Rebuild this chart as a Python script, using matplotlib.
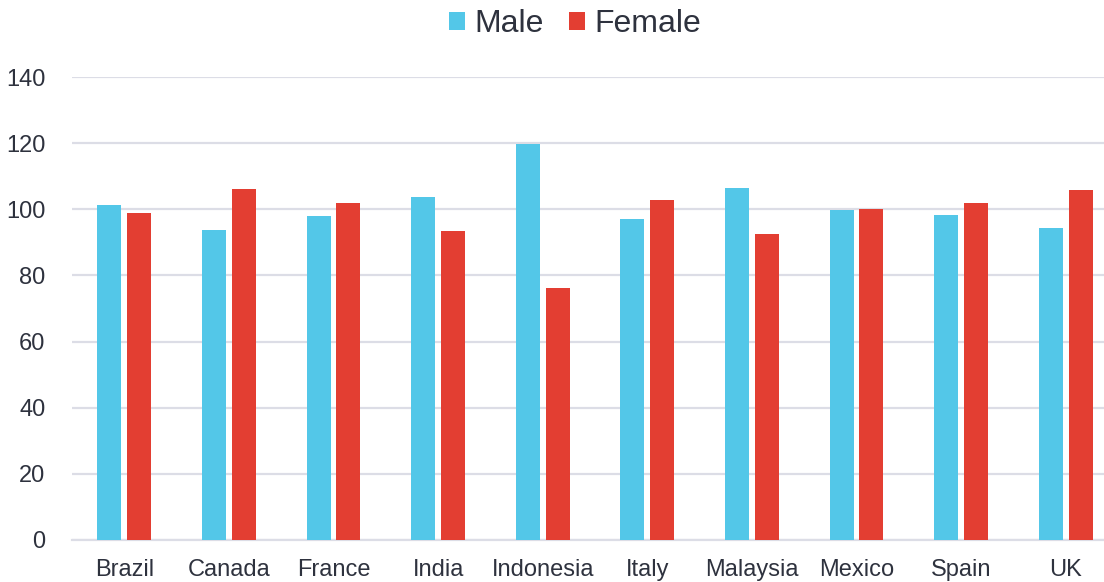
import matplotlib
matplotlib.use("Agg")
import matplotlib.pyplot as plt
import numpy as np

countries = ["Brazil", "Canada", "France", "India", "Indonesia",
             "Italy", "Malaysia", "Mexico", "Spain", "UK"]
male = [101.2, 93.7, 98.0, 103.6, 119.8, 97.0, 106.4, 99.9, 98.4, 94.2]
female = [98.8, 106.0, 101.8, 93.3, 76.3, 102.8, 92.4, 100.2, 101.8, 105.8]
yticks = [0, 20, 40, 60, 80, 100, 120, 140]

MALE_COLOR = "#53c7e8"
FEMALE_COLOR = "#e33e32"
TEXT_COLOR = "#2e323e"
GRID_COLOR = "#dcdde6"

plt.rcParams["font.family"] = ["Liberation Sans", "DejaVu Sans"]

fig = plt.figure(figsize=(11.04, 5.82), dpi=100)
ax = fig.add_axes([72 / 1104, 42 / 582, 1046 / 1104, 463 / 582])

x = np.arange(len(countries))
w = 0.23
off = 0.143
ax.bar(x - off, male, width=w, color=MALE_COLOR, label="Male", zorder=3)
ax.bar(x + off, female, width=w, color=FEMALE_COLOR, label="Female", zorder=3)

ax.set_xlim(-0.5, len(countries) - 0.5)
ax.set_ylim(0, 140)
ax.set_yticks(yticks)
ax.set_xticks(x)
ax.set_xticklabels(countries)
ax.tick_params(axis="both", length=0, labelsize=17, labelcolor=TEXT_COLOR)
ax.tick_params(axis="y", pad=19)
ax.tick_params(axis="x", pad=14)

ax.grid(axis="y", color=GRID_COLOR, linewidth=1.6, zorder=0)
for side in ["top", "right", "left"]:
    ax.spines[side].set_visible(False)
ax.spines["bottom"].set_color(GRID_COLOR)
ax.spines["bottom"].set_linewidth(1.6)

fig.legend(loc="center", bbox_to_anchor=(575 / 1104, 1 - 24 / 582), ncol=2,
           frameon=False, fontsize=23, labelcolor=TEXT_COLOR,
           handlelength=0.5, handleheight=0.5, handletextpad=0.28,
           columnspacing=0.8)

fig.savefig("out.png", dpi=100)
